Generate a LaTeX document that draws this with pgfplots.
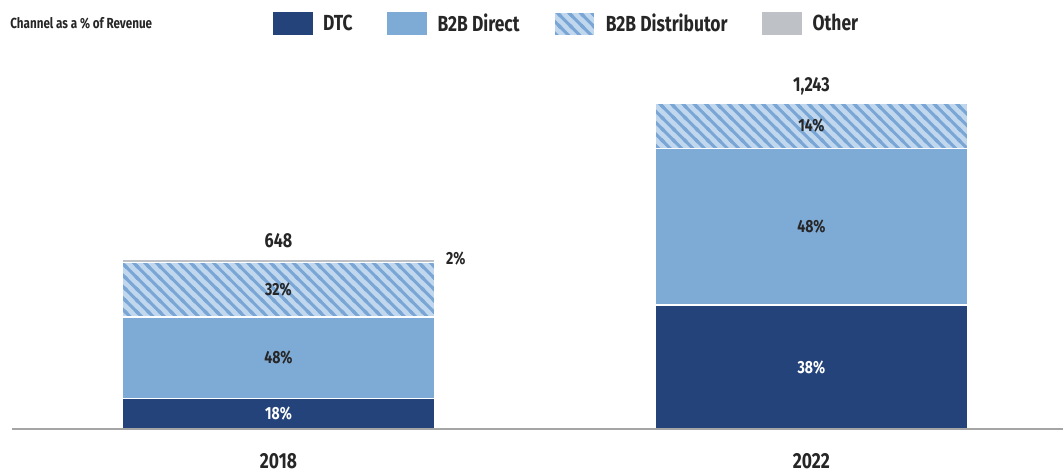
\documentclass[border=0pt]{standalone}
\usepackage{fontspec}
\setmainfont{Fira Sans}[FakeStretch=0.8]
\usepackage{pgfplots}
\pgfplotsset{compat=1.18}
\usetikzlibrary{patterns}

\definecolor{dtc}{RGB}{35,67,122}
\definecolor{direct}{RGB}{126,170,214}
\definecolor{distbg}{RGB}{192,215,238}
\definecolor{diststripe}{RGB}{122,166,214}
\definecolor{othergray}{RGB}{190,194,198}
\definecolor{txt}{RGB}{38,38,38}
\definecolor{axisgray}{RGB}{165,165,165}

% diagonal stripes, upper left to lower right
\pgfdeclarepatternformonly{diststripes}{\pgfqpoint{-1pt}{-1pt}}{\pgfqpoint{7.5pt}{7.5pt}}{\pgfqpoint{6.5pt}{6.5pt}}{
  \pgfsetlinewidth{1.7pt}
  \pgfpathmoveto{\pgfqpoint{-1pt}{7.5pt}}
  \pgfpathlineto{\pgfqpoint{7.5pt}{-1pt}}
  \pgfpathmoveto{\pgfqpoint{-1pt}{1pt}}
  \pgfpathlineto{\pgfqpoint{1pt}{-1pt}}
  \pgfpathmoveto{\pgfqpoint{5.5pt}{7.5pt}}
  \pgfpathlineto{\pgfqpoint{7.5pt}{5.5pt}}
  \pgfusepath{stroke}
}

\tikzset{
  pct/.style={font=\bfseries\fontsize{10}{12}\selectfont, text=txt},
  tot/.style={font=\bfseries\fontsize{11.5}{13}\selectfont, text=txt, anchor=base, yshift=0.24cm},
}

\begin{document}
\begin{tikzpicture}
\path[use as bounding box] (-0.24,-0.86) rectangle (21.02,8.58);
\begin{axis}[
  scale only axis, width=21.02cm, height=7.38cm,
  xmin=-0.5, xmax=1.472, ymin=0, ymax=1407,
  ybar stacked, bar width=6.26cm,
  axis on top,
  axis y line=none, axis x line*=bottom,
  x axis line style={draw=axisgray, line width=1pt},
  xtick={0,1}, xticklabels={2018,2022}, major tick length=0pt,
  xticklabel style={font=\bfseries\fontsize{12.4}{14}\selectfont, text=txt, anchor=base, yshift=-0.79cm},
  ytick=\empty,
  clip=false,
  legend columns=4,
  legend image code/.code={\draw[#1, draw=none] (0cm,-0.23cm) rectangle (0.8cm,0.23cm);},
  legend style={at={(axis description cs:0.2426,1.0976)}, anchor=west, draw=none, fill=none,
    font=\bfseries\fontsize{12.4}{14}\selectfont, text=txt,
    /tikz/every odd column/.append style={column sep=0.14cm},
    /tikz/every even column/.append style={column sep=0.62cm}},
]
% revenue by channel (2018: 648, 2022: 1,243)
\addplot[fill=dtc, draw=white, line width=0.8pt] coordinates {(0,116.6) (1,472.3)};
\addlegendentry{DTC}
\addplot[fill=direct, draw=white, line width=0.8pt] coordinates {(0,311.0) (1,596.7)};
\addlegendentry{B2B Direct}
\addplot[fill=distbg, draw=white, line width=0.8pt, postaction={pattern=diststripes, pattern color=diststripe}] coordinates {(0,207.4) (1,174.0)};
\addlegendentry{B2B Distributor}
\addplot[fill=othergray, draw=white, line width=0.8pt] coordinates {(0,13.0) (1,0)};
\addlegendentry{Other}

\coordinate (a1) at (axis cs:0,58.3);
\coordinate (a2) at (axis cs:0,272.1);
\coordinate (a3) at (axis cs:0,531.3);
\coordinate (a4) at (axis cs:0.303,651);
\coordinate (a5) at (axis cs:0,648);
\coordinate (b1) at (axis cs:1,236.2);
\coordinate (b2) at (axis cs:1,770.6);
\coordinate (b3) at (axis cs:1,1156);
\coordinate (b5) at (axis cs:1,1243);
\node[anchor=west, inner sep=0pt, font=\bfseries\fontsize{8.3}{9}\selectfont, text=txt] at (axis description cs:-0.0019,1.1) {Channel as a \% of Revenue};
\end{axis}
% percentage labels on top of the bars
\node[pct, text=white] at (a1) {18\%};
\node[pct] at (a2) {48\%};
\node[pct] at (a3) {32\%};
\node[pct, anchor=west] at (a4) {2\%};
\node[tot] at (a5) {648};
\node[pct, text=white] at (b1) {38\%};
\node[pct] at (b2) {48\%};
\node[pct] at (b3) {14\%};
\node[tot] at (b5) {1,243};
\end{tikzpicture}
\end{document}
